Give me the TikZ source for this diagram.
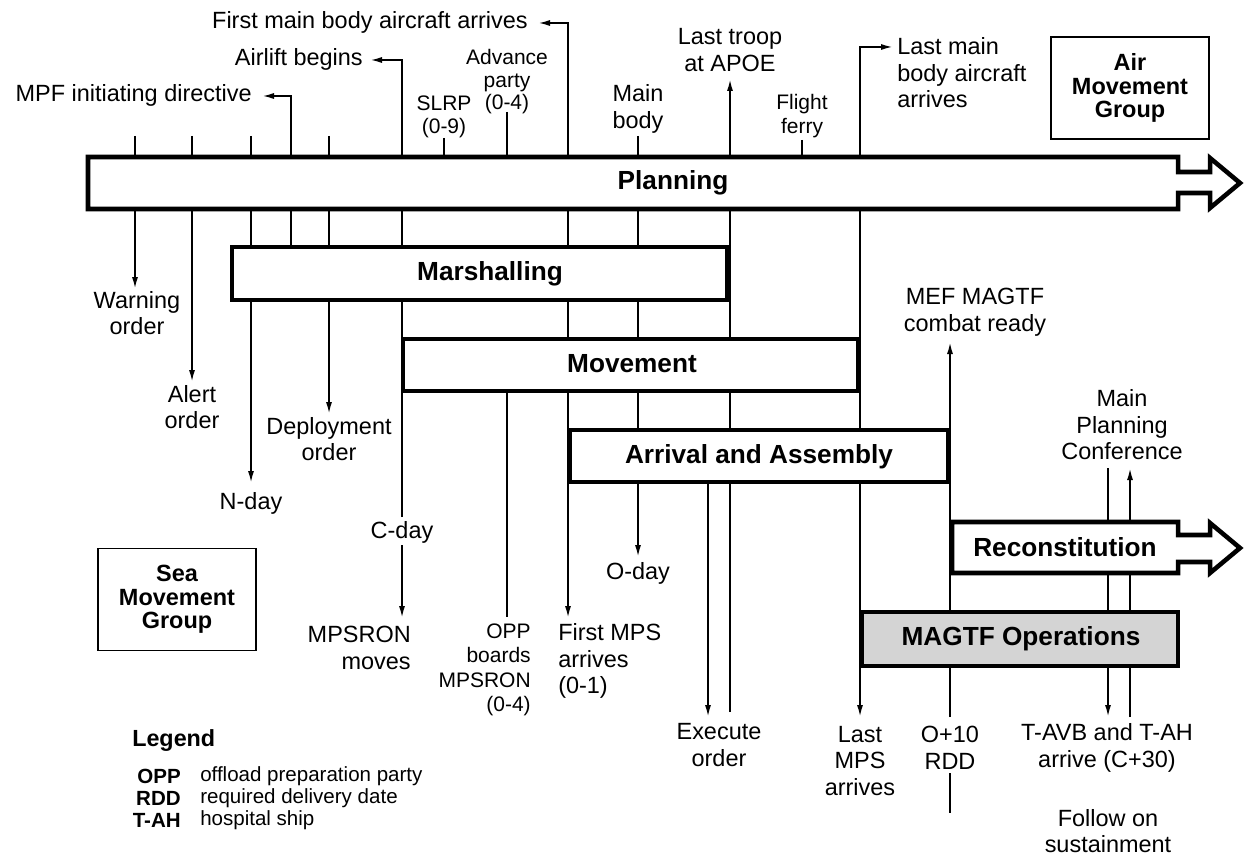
\documentclass[tikz,border=0pt]{standalone}
\usepackage{fontspec}
\setmainfont{Liberation Sans}
\usetikzlibrary{arrows.meta}
\begin{document}
\begin{tikzpicture}[x=0.75pt,y=-0.75pt,
  ln/.style={line width=1.35pt},
  arr/.style={line width=1.35pt,-{Latex[length=9pt,width=4.5pt]}},
  darr/.style={line width=1.35pt,{Latex[length=9pt,width=4.5pt]}-{Latex[length=9pt,width=4.5pt]}},
  phase/.style={draw,line width=3.4pt,fill=white,inner sep=0pt,outer sep=0pt},
  bigarrow/.style={draw,line width=3.4pt,fill=white,line join=miter},
  lbl/.style={inner sep=0pt,align=center,font=\fontsize{17.6}{19.9}\selectfont},
  sml/.style={inner sep=0pt,align=center,font=\fontsize{15.75}{16.9}\selectfont},
  ttl/.style={inner sep=0pt,font=\bfseries\fontsize{19.65}{22}\selectfont},
  grp/.style={draw,line width=1pt,minimum width=118.5pt,minimum height=76.5pt,align=center,inner sep=0pt,font=\bfseries\fontsize{17.6}{17.6}\selectfont},
  legab/.style={inner sep=0pt,anchor=east,font=\bfseries\fontsize{15.4}{17}\selectfont},
  legtx/.style={inner sep=0pt,anchor=west,font=\fontsize{15.4}{17}\selectfont},
]
\useasboundingbox (0,0) rectangle (1245,859);

% ---------- coordinates of the connectors ----------
\coordinate (wTop) at (135,136);  \coordinate (wEnd) at (135,289);
\coordinate (aTop) at (192,136);  \coordinate (aEnd) at (192,382);
\coordinate (nTop) at (251,136);  \coordinate (nEnd) at (251,483);
\coordinate (mpfEnd) at (262,96); \coordinate (mpfBend) at (291,96); \coordinate (mpfFoot) at (291,247);
\coordinate (dTop) at (329,136);  \coordinate (dEnd) at (329,414);
\coordinate (alEnd) at (370,60);  \coordinate (alBend) at (402,60); \coordinate (cdUp) at (402,517);
\coordinate (cdLo) at (402,545);  \coordinate (cdEnd) at (402,618);
\coordinate (slTop) at (444,138); \coordinate (slFoot) at (444,157);
\coordinate (adTop) at (507,112); \coordinate (adFoot) at (507,157);
\coordinate (opTop) at (507,391); \coordinate (opEnd) at (507,617);
\coordinate (fmEnd) at (538,23);  \coordinate (fmBend) at (568,23); \coordinate (fmpsEnd) at (568,618);
\coordinate (mbTop) at (638,136); \coordinate (odEnd) at (638,557);
\coordinate (ltEnd) at (730,79);  \coordinate (exFoot) at (730,712);
\coordinate (exTop) at (708,482); \coordinate (exEnd) at (708,717);
\coordinate (ffTop) at (802,140); \coordinate (ffFoot) at (802,157);
\coordinate (lmEnd) at (893,47);  \coordinate (lmBend) at (860,47); \coordinate (lmpsEnd) at (860,717);
\coordinate (mefEnd) at (950,342); \coordinate (o10Up) at (950,717);
\coordinate (o10Lo) at (950,773); \coordinate (o10Foot) at (950,813);
\coordinate (mpcA) at (1108,468); \coordinate (tavA) at (1108,717);
\coordinate (tavB) at (1130,717); \coordinate (mpcB) at (1130,468);

% ---------- connectors ----------
\draw[arr] (wTop) -- (wEnd);
\draw[arr] (aTop) -- (aEnd);
\draw[arr] (nTop) -- (nEnd);
\draw[arr] (mpfFoot) -- (mpfBend) -- (mpfEnd);
\draw[arr] (dTop) -- (dEnd);
\draw[arr] (cdUp) -- (alBend) -- (alEnd);
\draw[arr] (cdLo) -- (cdEnd);
\draw[ln] (slTop) -- (slFoot);
\draw[ln] (adTop) -- (adFoot);
\draw[ln] (opTop) -- (opEnd);
\draw[darr] (fmEnd) -- (fmBend) -- (fmpsEnd);
\draw[arr] (mbTop) -- (odEnd);
\draw[arr] (exFoot) -- (ltEnd);
\draw[arr] (exTop) -- (exEnd);
\draw[ln] (ffTop) -- (ffFoot);
\draw[darr] (lmEnd) -- (lmBend) -- (lmpsEnd);
\draw[arr] (o10Up) -- (mefEnd);
\draw[ln] (o10Lo) -- (o10Foot);
\draw[arr] (mpcA) -- (tavA);
\draw[arr] (tavB) -- (mpcB);

% ---------- phase bars ----------
\draw[bigarrow] (88,157) -- (1178,157) -- (1178,172) -- (1210,172) -- (1210,158)
  -- (1240,183) -- (1210,208) -- (1210,193) -- (1178,193) -- (1178,209) -- (88,209) -- cycle;
\node[ttl] (planning) at (673,183) {Planning};

\node[phase,minimum width=371.25pt,minimum height=39.75pt] (marsh) at (479.5,273.5) {};
\node[ttl] (marshT) at (490,274) {Marshalling};

\node[phase,minimum width=341.25pt,minimum height=39pt] (move) at (630.5,365) {};
\node[ttl] (moveT) at (632,364) {Movement};

\node[phase,minimum width=283.5pt,minimum height=39pt] (arrival) at (759,456) {};
\node[ttl] (arrivalT) at (759,457) {Arrival and Assembly};

\draw[bigarrow] (952,522) -- (1178,522) -- (1178,535) -- (1210,535) -- (1210,523)
  -- (1240,548) -- (1210,573) -- (1210,562) -- (1178,562) -- (1178,573) -- (952,573) -- cycle;
\node[ttl] (recon) at (1065,547) {Reconstitution};

\node[phase,fill=black!17,minimum width=237pt,minimum height=40.5pt] (magtf) at (1020,639) {};
\node[ttl] (magtfT) at (1021,639) {MAGTF Operations};

% ---------- group boxes ----------
\node[grp] (air) at (1130,88) {Air\\Movement\\Group};
\node[grp] (sea) at (177,599.5) {Sea\\Movement\\Group};

% ---------- labels above ----------
\node[lbl,anchor=east] (mpf) at (252,95) {MPF initiating directive};
\node[lbl,anchor=east] (airlift) at (363,59) {Airlift begins};
\node[lbl,anchor=east] (firstmain) at (528,22) {First main body aircraft arrives};
\node[sml] (slrp) at (444,117) {SLRP\\(0-9)};
\node[sml] (adv) at (507,82) {Advance\\party\\(0-4)};
\node[lbl] (mainbody) at (638,109) {Main\\body};
\node[lbl] (lasttroop) at (730,50) {Last troop\\at APOE};
\node[sml,font=\fontsize{15.75}{18}\selectfont] (ferry) at (802,116) {Flight\\ferry};
\node[lbl,anchor=west,align=left] (lastmain) at (897,73) {Last main\\body aircraft\\arrives};

% ---------- labels below ----------
\node[lbl] (warn) at (137,313) {Warning\\order};
\node[lbl] (alert) at (192,407) {Alert\\order};
\node[lbl] (nday) at (251,503) {N-day};
\node[lbl] (deploy) at (329,439) {Deployment\\order};
\node[lbl] (cday) at (402,532) {C-day};
\node[lbl,anchor=east,align=right] (mpsron) at (411,648) {MPSRON\\moves};
\node[sml,anchor=east,align=right,font=\fontsize{15.75}{18.4}\selectfont] (oppb) at (531,670) {OPP\\boards\\MPSRON\\(0-4)};
\node[lbl,anchor=west,align=left] (firstmps) at (558,661) {First MPS\\arrives\\(0-1)};
\node[lbl] (oday) at (638,573) {O-day};
\node[lbl] (exec) at (719,745) {Execute\\order};
\node[lbl] (lastmps) at (860,761) {Last\\MPS\\arrives};
\node[lbl] (o10) at (950,748) {O+10\\RDD};
\node[lbl] (mef) at (975,312) {MEF MAGTF\\combat ready};
\node[lbl] (mpc) at (1122,425) {Main\\Planning\\Conference};
\node[lbl] (tavb) at (1107,748) {T-AVB and T-AH\\arrive (C+30)};
\node[lbl] (follow) at (1108,831) {Follow on\\sustainment};

% ---------- legend ----------
\node[inner sep=0pt,anchor=west,font=\bfseries\fontsize{17.5}{20}\selectfont] (legend) at (132,741) {Legend};
\node[legab] (kOPP) at (181,776) {OPP};
\node[legtx] (vOPP) at (200,776) {offload preparation party};
\node[legab] (kRDD) at (181,798) {RDD};
\node[legtx] (vRDD) at (200,798) {required delivery date};
\node[legab] (kTAH) at (181,820) {T-AH};
\node[legtx] (vTAH) at (200,820) {hospital ship};
\end{tikzpicture}
\end{document}
